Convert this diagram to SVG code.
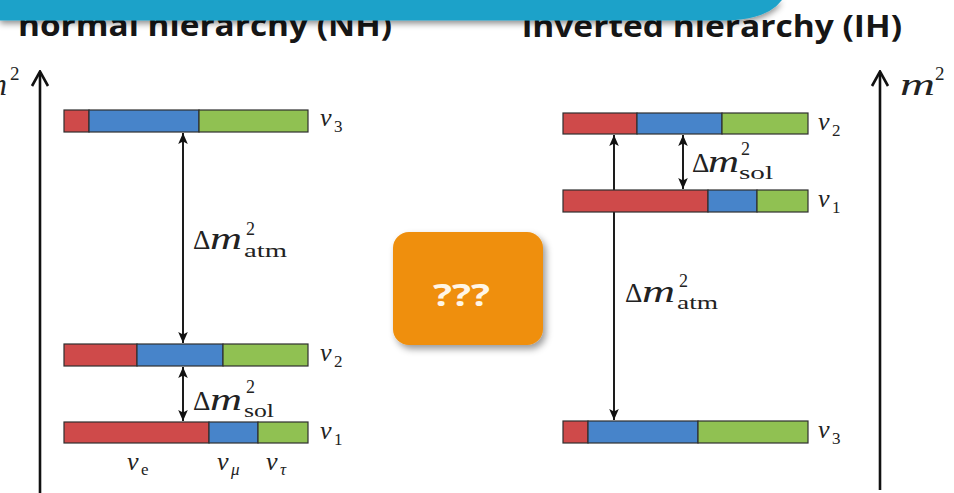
<svg xmlns="http://www.w3.org/2000/svg" width="954" height="493" viewBox="0 0 954 493">
<style>
.title{font-family:"Open Sans","DejaVu Sans",sans-serif;font-weight:700;font-size:30px;fill:#161616}
.seg{stroke:#2f2f2f;stroke-width:1.2}
.r{fill:#cf4a4a}.b{fill:#4784ca}.g{fill:#90c152}
.math{font-family:"Liberation Serif","DejaVu Serif",serif;fill:#222}
.it{font-style:italic}
.conn{stroke:#111;stroke-width:1.9;fill:none}
.axis{stroke:#111;stroke-width:2.6;fill:none}
.qq{font-family:"Open Sans","DejaVu Sans",sans-serif;font-weight:700;font-size:30px;fill:#fff6e6}
</style>
<defs>
<marker id="ah" viewBox="-11 -5 11 10" refX="0" refY="0" markerWidth="11" markerHeight="10" markerUnits="userSpaceOnUse" orient="auto-start-reverse">
<path d="M-11,-4.8 L0,0 L-11,4.8 L-8.5,0 Z" fill="#111"/>
</marker>
<marker id="axh" viewBox="-16 -10 18 20" refX="0" refY="0" markerWidth="18" markerHeight="20" markerUnits="userSpaceOnUse" orient="auto">
<path d="M-14,-8 Q-4,-2.5 0.5,0 Q-4,2.5 -14,8" fill="none" stroke="#111" stroke-width="2.6"/>
</marker>
<filter id="sh" x="-20%" y="-50%" width="140%" height="200%">
<feDropShadow dx="0" dy="3" stdDeviation="3" flood-color="#000" flood-opacity="0.45"/>
</filter>
<filter id="sh2" x="-20%" y="-20%" width="150%" height="150%">
<feDropShadow dx="3" dy="4" stdDeviation="3.5" flood-color="#000" flood-opacity="0.4"/>
</filter>
</defs>
<rect width="954" height="493" fill="#ffffff"/>

<g id="titles">
<text class="title" x="18" y="36" textLength="374" lengthAdjust="spacingAndGlyphs">normal hierarchy (NH)</text>
<text class="title" x="522" y="37" textLength="380" lengthAdjust="spacingAndGlyphs">inverted hierarchy (IH)</text>
</g>

<g id="banner">
<path d="M0,0 H782 Q768,19 728,20.5 H0 Z" fill="#1ea2c9" filter="url(#sh)"/>
</g>

<g id="axes">
<line class="axis" x1="40" y1="493" x2="40" y2="72" marker-end="url(#axh)"/>
<text class="math it" x="-16" y="95" font-size="32" textLength="23" lengthAdjust="spacingAndGlyphs">m</text>
<text class="math" x="10" y="80" font-size="19">2</text>
<line class="axis" x1="880" y1="490" x2="880" y2="72" marker-end="url(#axh)"/>
<text class="math it" x="900" y="95" font-size="32" textLength="35" lengthAdjust="spacingAndGlyphs">m</text>
<text class="math" x="935" y="80" font-size="19">2</text>
</g>

<g id="connectors">
<line class="conn" x1="183" y1="133" x2="183" y2="343" marker-start="url(#ah)" marker-end="url(#ah)"/>
<line class="conn" x1="183" y1="367" x2="183" y2="421" marker-start="url(#ah)" marker-end="url(#ah)"/>
<line class="conn" x1="614" y1="135" x2="614" y2="420" marker-start="url(#ah)" marker-end="url(#ah)"/>
<line class="conn" x1="683" y1="135" x2="683" y2="189" marker-start="url(#ah)" marker-end="url(#ah)"/>
</g>

<g id="nh-nu3">
<rect class="seg r" x="64" y="110" width="25" height="22"/>
<rect class="seg b" x="89" y="110" width="110" height="22"/>
<rect class="seg g" x="199" y="110" width="109" height="22"/>
<text class="math it" x="320" y="126" font-size="26">ν</text>
<text class="math" x="334" y="132" font-size="17">3</text>
</g>
<g id="nh-nu2">
<rect class="seg r" x="64" y="344" width="73" height="22"/>
<rect class="seg b" x="137" y="344" width="86" height="22"/>
<rect class="seg g" x="223" y="344" width="85" height="22"/>
<text class="math it" x="320" y="361" font-size="26">ν</text>
<text class="math" x="334" y="367" font-size="17">2</text>
</g>
<g id="nh-nu1">
<rect class="seg r" x="64" y="422" width="145" height="21"/>
<rect class="seg b" x="209" y="422" width="49" height="21"/>
<rect class="seg g" x="258" y="422" width="50" height="21"/>
<text class="math it" x="320" y="439" font-size="26">ν</text>
<text class="math" x="334" y="445" font-size="17">1</text>
</g>
<g id="flavours">
<text class="math it" x="127" y="470" font-size="26">ν</text>
<text class="math" x="141" y="475" font-size="17">e</text>
<text class="math it" x="217" y="470" font-size="26">ν</text>
<text class="math it" x="231" y="475" font-size="17">μ</text>
<text class="math it" x="266" y="470" font-size="26">ν</text>
<text class="math it" x="280" y="475" font-size="17">τ</text>
</g>
<g id="nh-atm-label">
<text class="math" x="193" y="249" font-size="27">Δ</text>
<text class="math it" x="210" y="249" font-size="31" textLength="32" lengthAdjust="spacingAndGlyphs">m</text>
<text class="math" x="246" y="235" font-size="18">2</text>
<text class="math" x="244" y="257" font-size="19" textLength="43" lengthAdjust="spacingAndGlyphs">atm</text>
</g>
<g id="nh-sol-label">
<text class="math" x="193" y="410" font-size="27">Δ</text>
<text class="math it" x="210" y="410" font-size="31" textLength="32" lengthAdjust="spacingAndGlyphs">m</text>
<text class="math" x="246" y="393" font-size="18">2</text>
<text class="math" x="244" y="417" font-size="19" textLength="30" lengthAdjust="spacingAndGlyphs">sol</text>
</g>

<g id="ih-nu2">
<rect class="seg r" x="563" y="113" width="74" height="21"/>
<rect class="seg b" x="637" y="113" width="85" height="21"/>
<rect class="seg g" x="722" y="113" width="86" height="21"/>
<text class="math it" x="818" y="130" font-size="26">ν</text>
<text class="math" x="832" y="136" font-size="17">2</text>
</g>
<g id="ih-nu1">
<rect class="seg r" x="563" y="190" width="145" height="22"/>
<rect class="seg b" x="708" y="190" width="49" height="22"/>
<rect class="seg g" x="757" y="190" width="51" height="22"/>
<text class="math it" x="818" y="207" font-size="26">ν</text>
<text class="math" x="832" y="213" font-size="17">1</text>
</g>
<g id="ih-nu3">
<rect class="seg r" x="563" y="421" width="25" height="22"/>
<rect class="seg b" x="588" y="421" width="110" height="22"/>
<rect class="seg g" x="698" y="421" width="110" height="22"/>
<text class="math it" x="818" y="438" font-size="26">ν</text>
<text class="math" x="832" y="444" font-size="17">3</text>
</g>
<g id="ih-sol-label">
<text class="math" x="692" y="172" font-size="27">Δ</text>
<text class="math it" x="708" y="172" font-size="31" textLength="31" lengthAdjust="spacingAndGlyphs">m</text>
<text class="math" x="741" y="155" font-size="18">2</text>
<text class="math" x="739" y="179" font-size="19" textLength="34" lengthAdjust="spacingAndGlyphs">sol</text>
</g>
<g id="ih-atm-label">
<text class="math" x="625" y="302" font-size="27">Δ</text>
<text class="math it" x="642" y="302" font-size="31" textLength="33" lengthAdjust="spacingAndGlyphs">m</text>
<text class="math" x="679" y="287" font-size="18">2</text>
<text class="math" x="677" y="309" font-size="19" textLength="41" lengthAdjust="spacingAndGlyphs">atm</text>
</g>

<g id="unknown">
<rect x="393" y="232" width="150" height="113" rx="16" ry="16" fill="#ef8f0b" filter="url(#sh2)"/>
<text class="qq" x="433" y="306" textLength="57" lengthAdjust="spacingAndGlyphs">???</text>
</g>
</svg>
